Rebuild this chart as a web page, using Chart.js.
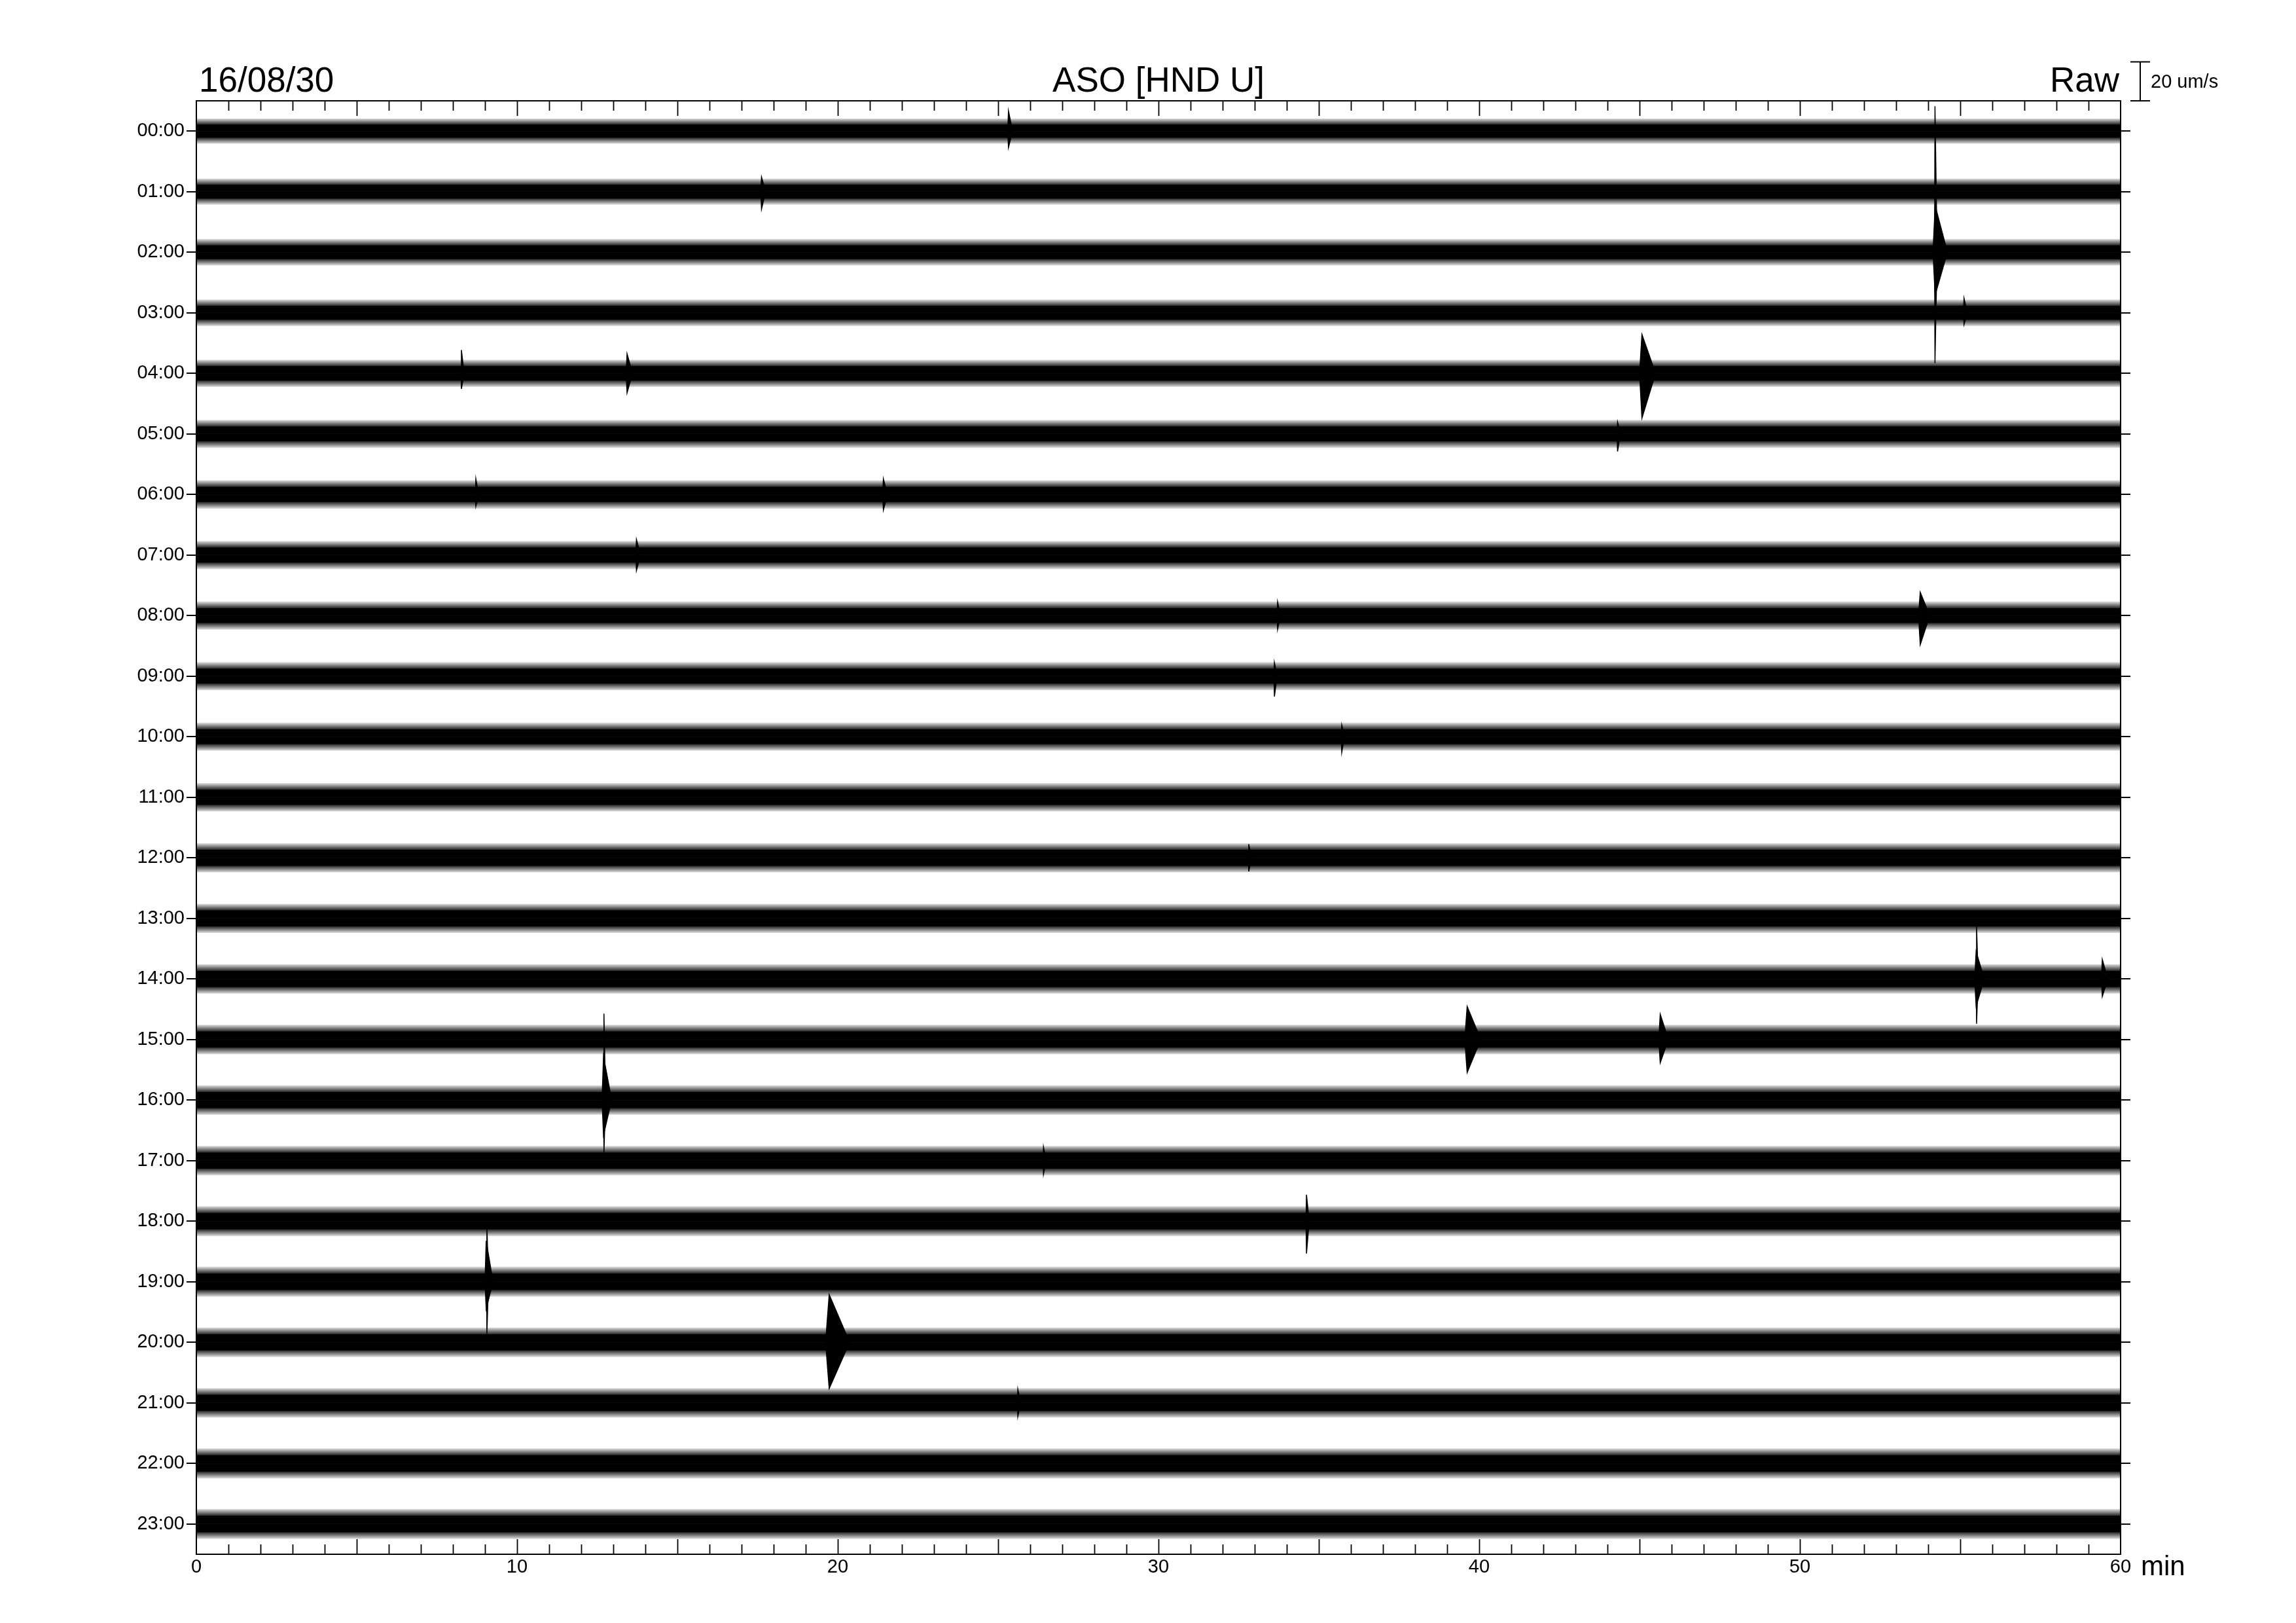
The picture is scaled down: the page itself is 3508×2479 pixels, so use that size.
<!DOCTYPE html>
<html>
<head>
<meta charset="utf-8">
<title>ASO [HND U] 16/08/30</title>
<script src="https://cdn.jsdelivr.net/npm/chart.js"></script>
<style>
  html, body { margin: 0; padding: 0; background: #fff; }
  canvas { display: block; }
</style>
</head>
<body>
<canvas id="chart" width="3508" height="2479"></canvas>
<script>
'use strict'

// Hourly seismogram drum: one trace per hour, 60 minutes across

// Global Variables
// rows of the drum
let hourLabels = ['00:00', '01:00', '02:00', '03:00', '04:00', '05:00', '06:00', '07:00',
  '08:00', '09:00', '10:00', '11:00', '12:00', '13:00', '14:00', '15:00',
  '16:00', '17:00', '18:00', '19:00', '20:00', '21:00', '22:00', '23:00'];
let minuteLabels = [0, 10, 20, 30, 40, 50, 60];

// gap between two traces in um/s (read against the 20 um/s bar)
let rowGap = 31.1;
let scaleBar = 20;

// background noise per hour, um/s: solid band half width and spike reach
let noiseCore = [3.4, 3.5, 3.5, 3.5, 3.7, 3.8, 3.9, 3.9, 3.8, 3.8, 3.8, 3.9,
  4.1, 4.1, 4.1, 4.1, 4.1, 4.1, 4.2, 4.2, 4.1, 4.1, 4.2, 4.2];
let noisePeak = [6.5, 6.7, 6.8, 6.8, 7.0, 7.2, 7.3, 7.2, 7.2, 7.2, 7.2, 7.3,
  7.5, 7.5, 7.6, 7.6, 7.6, 7.6, 7.7, 7.7, 7.6, 7.6, 7.7, 7.7];

// events: hour row, onset minute, peak up / down (um/s), length (min)
let eventRow = [0, 1, 2, 2, 3, 4, 4, 4, 5, 6, 6, 7, 8, 8, 9, 10, 12, 14, 14, 14, 15, 15, 16, 16, 17, 18, 19, 19, 20, 21];
let eventStart = [25.3, 17.6, 54.2, 54.15, 55.1, 45.0, 13.4, 8.25, 44.3, 21.4, 8.7, 13.7, 53.7, 33.7, 33.6, 35.7, 32.8, 55.5, 55.45, 59.4, 39.55, 45.6, 12.7, 12.65, 26.4, 34.6, 9.05, 9.0, 19.62, 25.6];
let eventUp = [10.4, 7.5, 75, 24, 7.5, 20, 10, 12, 6, 8, 8, 8, 12, 7, 7, 6, 7, 27, 14, 10, 17, 13, 44.4, 22.5, 7, 13.6, 29, 21, 24.5, 7];
let eventDown = [8.4, 9, 57, 22, 6, 23, 10, 8, 9, 8, 6, 8, 15, 7, 10.5, 8, 7, 23, 14, 9, 17, 12, 27, 18, 7, 16.6, 26.7, 14, 23.8, 7];
let eventLength = [0.15, 0.15, 0.08, 0.45, 0.12, 0.5, 0.2, 0.1, 0.1, 0.15, 0.1, 0.15, 0.35, 0.1, 0.1, 0.1, 0.1, 0.06, 0.3, 0.2, 0.5, 0.3, 0.06, 0.3, 0.1, 0.1, 0.06, 0.25, 0.75, 0.1];

let fontFamily = '"Liberation Sans", Arial, Helvetica, sans-serif';

// Global Functions
function rowCentre(i) {
  return -i * rowGap;
}

// solid band filled towards the trace centre
function coreDataset(i, sign) {
  let c = rowCentre(i);
  let h = sign * noiseCore[i];
  return {
    data: [{ x: 0, y: c + h }, { x: 60, y: c + h }],
    fill: { value: c },
    backgroundColor: '#000',
    borderWidth: 0
  };
}

// spiky fringe of the noise, shaded dark near the band and fading outwards
function fringeDataset(i, sign) {
  let c = rowCentre(i);
  let h = sign * noisePeak[i];
  return {
    data: [{ x: 0, y: c + h }, { x: 60, y: c + h }],
    fill: { value: c },
    borderWidth: 0,
    backgroundColor: function (context) {
      let chart = context.chart;
      let y = chart.scales.y;
      if (!chart.chartArea || !y) {
        return 'rgba(0,0,0,0.4)';
      }
      let g = chart.ctx.createLinearGradient(0, y.getPixelForValue(c), 0, y.getPixelForValue(c + h));
      let stop = noiseCore[i] / noisePeak[i];
      g.addColorStop(0, 'rgba(0,0,0,1)');
      g.addColorStop(stop, 'rgba(0,0,0,0.85)');
      g.addColorStop(1, 'rgba(0,0,0,0.12)');
      return g;
    }
  };
}

// one side of an event burst: fast onset, slower decay
function eventDataset(k, sign) {
  let c = rowCentre(eventRow[k]);
  let t0 = eventStart[k];
  let len = eventLength[k];
  let amp = sign > 0 ? eventUp[k] : -eventDown[k];
  return {
    data: [{ x: t0, y: c }, { x: t0 + len * 0.15, y: c + amp }, { x: t0 + len, y: c }],
    fill: { value: c },
    backgroundColor: '#000',
    borderColor: '#000',
    borderWidth: 1.5
  };
}

let datasets = [];
for (let i = 0; i < hourLabels.length; i++) {
  datasets.push(fringeDataset(i, 1));
  datasets.push(fringeDataset(i, -1));
  datasets.push(coreDataset(i, 1));
  datasets.push(coreDataset(i, -1));
}
for (let k = 0; k < eventRow.length; k++) {
  datasets.push(eventDataset(k, 1));
  datasets.push(eventDataset(k, -1));
}

function rowTicks(scale) {
  scale.ticks = hourLabels.map((h, i) => ({ value: rowCentre(i) }));
}

// frame, inward minute ticks and the header texts
let drumDecor = {
  id: 'drumDecor',
  afterDraw(chart) {
    let ctx = chart.ctx;
    let area = chart.chartArea;
    let x = chart.scales.x;
    let y = chart.scales.y;
    ctx.save();
    ctx.strokeStyle = '#000';
    ctx.lineWidth = 2;
    ctx.strokeRect(area.left, area.top, area.right - area.left, area.bottom - area.top);

    ctx.lineWidth = 1.8;
    ctx.beginPath();
    for (let m = 1; m < 60; m++) {
      let px = Math.round(x.getPixelForValue(m)) + 0.5;
      let len = m % 5 === 0 ? 23 : 15;
      ctx.moveTo(px, area.top);
      ctx.lineTo(px, area.top + len);
      ctx.moveTo(px, area.bottom);
      ctx.lineTo(px, area.bottom - len);
    }
    ctx.stroke();

    ctx.fillStyle = '#000';
    ctx.textBaseline = 'alphabetic';
    ctx.font = '53px ' + fontFamily;
    ctx.textAlign = 'left';
    ctx.fillText('16/08/30', area.left + 4, 140);
    ctx.textAlign = 'center';
    ctx.fillText('ASO [HND U]', (area.left + area.right) / 2, 140);
    ctx.textAlign = 'right';
    ctx.fillText('Raw', area.right - 2, 140);

    // 20 um/s bar, length taken from the y scale
    let barLen = y.getPixelForValue(0) - y.getPixelForValue(scaleBar);
    let bx = area.right + 30;
    let bBottom = area.top;
    let bTop = bBottom - barLen;
    ctx.lineWidth = 2;
    ctx.beginPath();
    ctx.moveTo(bx, bTop);
    ctx.lineTo(bx, bBottom);
    ctx.moveTo(bx - 15, bTop);
    ctx.lineTo(bx + 15, bTop);
    ctx.moveTo(bx - 15, bBottom);
    ctx.lineTo(bx + 15, bBottom);
    ctx.stroke();
    ctx.font = '29px ' + fontFamily;
    ctx.textAlign = 'left';
    ctx.fillText('20 um/s', bx + 16, 134);

    ctx.font = '42px ' + fontFamily;
    ctx.fillText('min', area.right + 31, 2406);
    ctx.restore();
  }
};

let config = {
  type: 'line',
  data: { datasets: datasets },
  options: {
    responsive: false,
    animation: false,
    devicePixelRatio: 1,
    parsing: false,
    normalized: true,
    layout: { padding: { top: 154, right: 253, bottom: 55, left: 0 } },
    elements: { point: { radius: 0 }, line: { tension: 0 } },
    plugins: {
      legend: { display: false },
      tooltip: { enabled: false },
      title: { display: false }
    },
    scales: {
      x: {
        type: 'linear',
        min: 0,
        max: 60,
        afterBuildTicks: (scale) => { scale.ticks = minuteLabels.map(v => ({ value: v })); },
        afterFit: (scale) => { scale.height = 50; },
        grid: { drawOnChartArea: false, drawTicks: false },
        border: { display: false },
        ticks: {
          color: '#000',
          padding: 3,
          maxRotation: 0,
          autoSkip: false,
          font: { family: fontFamily, size: 29 }
        }
      },
      y: {
        type: 'linear',
        position: 'left',
        min: rowCentre(23) - rowGap / 2,
        max: rowGap / 2,
        afterBuildTicks: rowTicks,
        afterFit: (scale) => { scale.width = 300; },
        grid: { drawOnChartArea: false, tickLength: 15, color: '#000', lineWidth: 2 },
        border: { display: false },
        ticks: {
          color: '#000',
          padding: 3,
          autoSkip: false,
          font: { family: fontFamily, size: 29 },
          callback: (value, index) => hourLabels[index]
        }
      },
      yRight: {
        type: 'linear',
        position: 'right',
        min: rowCentre(23) - rowGap / 2,
        max: rowGap / 2,
        afterBuildTicks: rowTicks,
        afterFit: (scale) => { scale.width = 15; },
        grid: { drawOnChartArea: false, tickLength: 15, color: '#000', lineWidth: 2 },
        border: { display: false },
        ticks: { display: false }
      }
    }
  },
  plugins: [drumDecor]
};

let myChart = new Chart(document.getElementById('chart'), config);
</script>
</body>
</html>
